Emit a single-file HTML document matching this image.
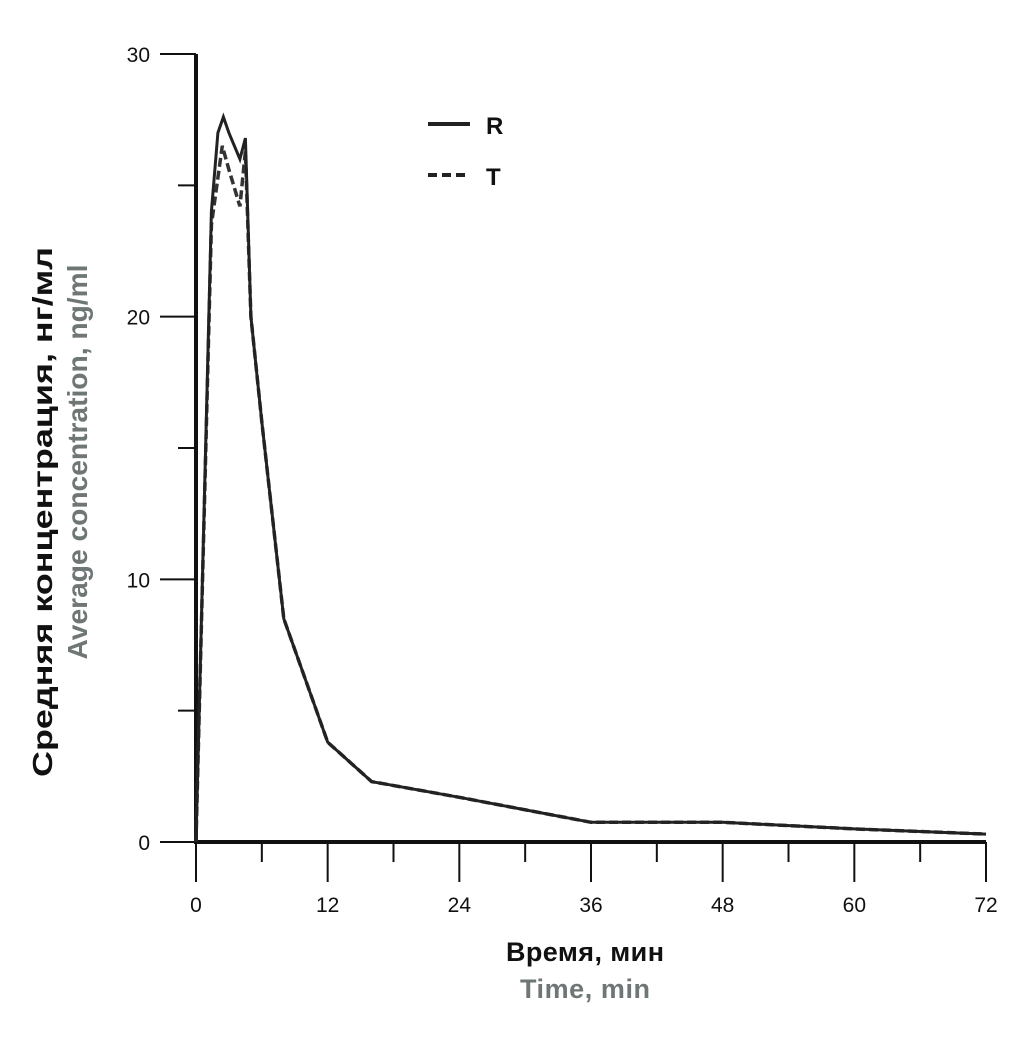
<!DOCTYPE html>
<html><head><meta charset="utf-8"><style>
body{margin:0;background:#fff}
svg{display:block;font-family:"Liberation Sans","DejaVu Sans",sans-serif}
</style></head><body>
<svg id="c" width="1028" height="1037">
<g id="axes"></g>
<g id="series"></g>
<g>
<line x1="428" y1="124" x2="470" y2="124" stroke="#222" stroke-width="4"/>
<text x="486" y="134" font-size="24" font-weight="bold" fill="#111">R</text>
<line x1="428" y1="175" x2="470" y2="175" stroke="#222" stroke-width="4" stroke-dasharray="9,5"/>
<text x="486" y="185" font-size="24" font-weight="bold" fill="#111">T</text>
</g>
<text x="585" y="961" text-anchor="middle" font-size="27" font-weight="bold" fill="#111" textLength="158">Время, мин</text>
<text x="585" y="998" text-anchor="middle" font-size="27" font-weight="bold" fill="#6e7676" textLength="130">Time, min</text>
<text transform="translate(52,512) rotate(-90)" text-anchor="middle" font-size="28" font-weight="bold" fill="#111" textLength="530" lengthAdjust="spacingAndGlyphs">Средняя концентрация, нг/мл</text>
<text transform="translate(87,462) rotate(-90)" text-anchor="middle" font-size="28" font-weight="bold" fill="#6e7676" textLength="395" lengthAdjust="spacingAndGlyphs">Average concentration, ng/ml</text>
</svg>
<script>
const xTicks=[0,12,24,36,48,60,72];
const yTicks=[0,10,20,30];
const timeR=[0,1.4,2,2.5,3,4,4.5,5,6,8,12,16,24,36,48,60,72];
const concR=[0,24,27,27.6,27,26,26.8,20,16,8.5,3.8,2.3,1.7,0.75,0.75,0.5,0.3];
const timeT=[0,1.4,2.4,3,4,4.5,5,6,8,12,16,24,36,48,60,72];
const concT=[0,23.5,26.5,25.6,24.2,26.3,20,16,8.5,3.8,2.3,1.7,0.75,0.75,0.5,0.3];
const X0=196,X1=986,Y0=842,Y1=54;
const sx=v=>X0+(v/72)*(X1-X0);
const sy=v=>Y0-(v/30)*(Y0-Y1);
const NS="http://www.w3.org/2000/svg";
function mk(tag,attrs,parent){const e=document.createElementNS(NS,tag);for(const k in attrs)e.setAttribute(k,attrs[k]);parent.appendChild(e);return e;}
const ax=document.getElementById('axes');
let e=mk('line',{x1:X0,y1:Y1,x2:X0,y2:Y0+1,stroke:'#111','stroke-width':4},ax);


e=mk('line',{x1:X0-2,y1:Y0,x2:X1,y2:Y0,stroke:'#111','stroke-width':4},ax);


for(let v=0;v<=72;v+=6){const major=v%12===0;
 e=mk('line',{x1:sx(v),y1:Y0,x2:sx(v),y2:Y0+(major?40:20),stroke:'#111','stroke-width':2},ax);
 
 }
xTicks.forEach(v=>{e=mk('text',{x:sx(v),y:912,'text-anchor':'middle','font-size':21,fill:'#111'},ax);e.textContent=v;
 
 });
for(let v=0;v<=30;v+=5){const major=v%10===0;
 e=mk('line',{x1:X0,y1:sy(v),x2:X0-(major?36:18),y2:sy(v),stroke:'#111','stroke-width':2},ax);
 
 }
yTicks.forEach(v=>{e=mk('text',{x:150,y:sy(v)+8,'text-anchor':'end','font-size':21,fill:'#111'},ax);e.textContent=v;
 
 });
const sg=document.getElementById('series');
function path(ts,cs){return ts.map((t,i)=>(i?'L':'M')+sx(t).toFixed(1)+','+sy(cs[i]).toFixed(1)).join(' ');}
e=mk('path',{d:path(timeT,concT),fill:'none',stroke:'#333','stroke-width':3.5,'stroke-dasharray':'9,4'},sg);


e=mk('path',{d:path(timeR,concR),fill:'none',stroke:'#222','stroke-width':3},sg);


</script>
</body></html>
